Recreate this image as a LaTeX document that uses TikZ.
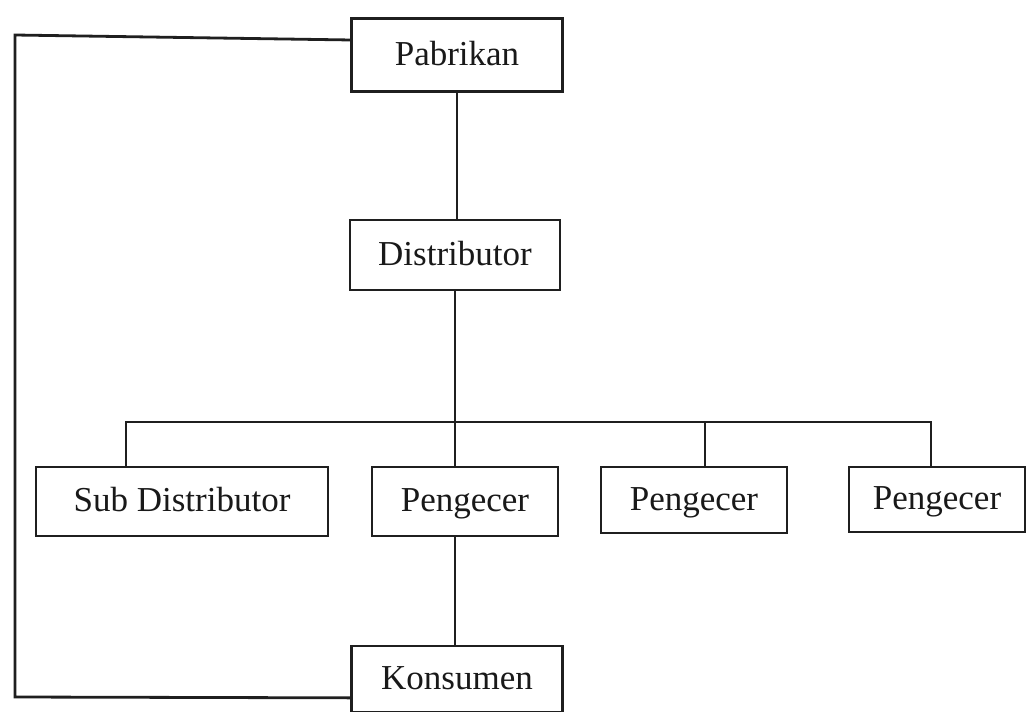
\documentclass[tikz,border=0pt]{standalone}
\usepackage{fontspec}
\setmainfont{Liberation Serif}
\begin{document}
\begin{tikzpicture}[x=1pt,y=-1pt,
  line width=2.8pt, line join=miter,
  boxnode/.style={draw=black!88, line width=2.8pt, rectangle, inner sep=0pt, text=black!90,
    text height=26pt, text depth=6pt,
    font=\fontsize{35}{40}\selectfont},
  link/.style={draw=black!88, line width=2.8pt}]
\useasboundingbox[fill=white] (0,0) rectangle (1028,712);
\node[boxnode, minimum width=211pt, minimum height=73pt] (pab) at (457,55) {Pabrikan};
\node[boxnode, minimum width=210pt, minimum height=70pt] (dis) at (455,255) {Distributor};
\node[boxnode, minimum width=292pt, minimum height=69pt] (sd) at (182,501.5) {Sub Distributor};
\node[boxnode, minimum width=186pt, minimum height=69pt] (p1) at (465,501.5) {Pengecer};
\node[boxnode, minimum width=186pt, minimum height=66pt] (p2) at (694,500) {Pengecer};
\node[boxnode, minimum width=176pt, minimum height=65pt] (p3) at (937,499.5) {Pengecer};
\node[boxnode, minimum width=211pt, minimum height=66pt] (kon) at (457,679) {Konsumen};
\coordinate (bl) at (126,422);
\coordinate (br) at (931,422);
\coordinate (p2d) at (705,422);
\coordinate (tl) at (15,35);
\coordinate (bll) at (15,697);
% main vertical
\draw[link] (pab.south) -- (pab.south |- dis.north);
\draw[link] (dis.south) -- (dis.south |- p1.north);
\draw[link] (p1.south -| dis.south) -- (kon.north -| dis.south);
% bus
\draw[link] (bl |- sd.north) -- (bl) -- (br) -- (br |- p3.north);
\draw[link] (p2d) -- (p2d |- p2.north);
% left loop
\draw[link] (pab.172) -- (tl) -- (bll) -- (kon.190);
\end{tikzpicture}
\end{document}
